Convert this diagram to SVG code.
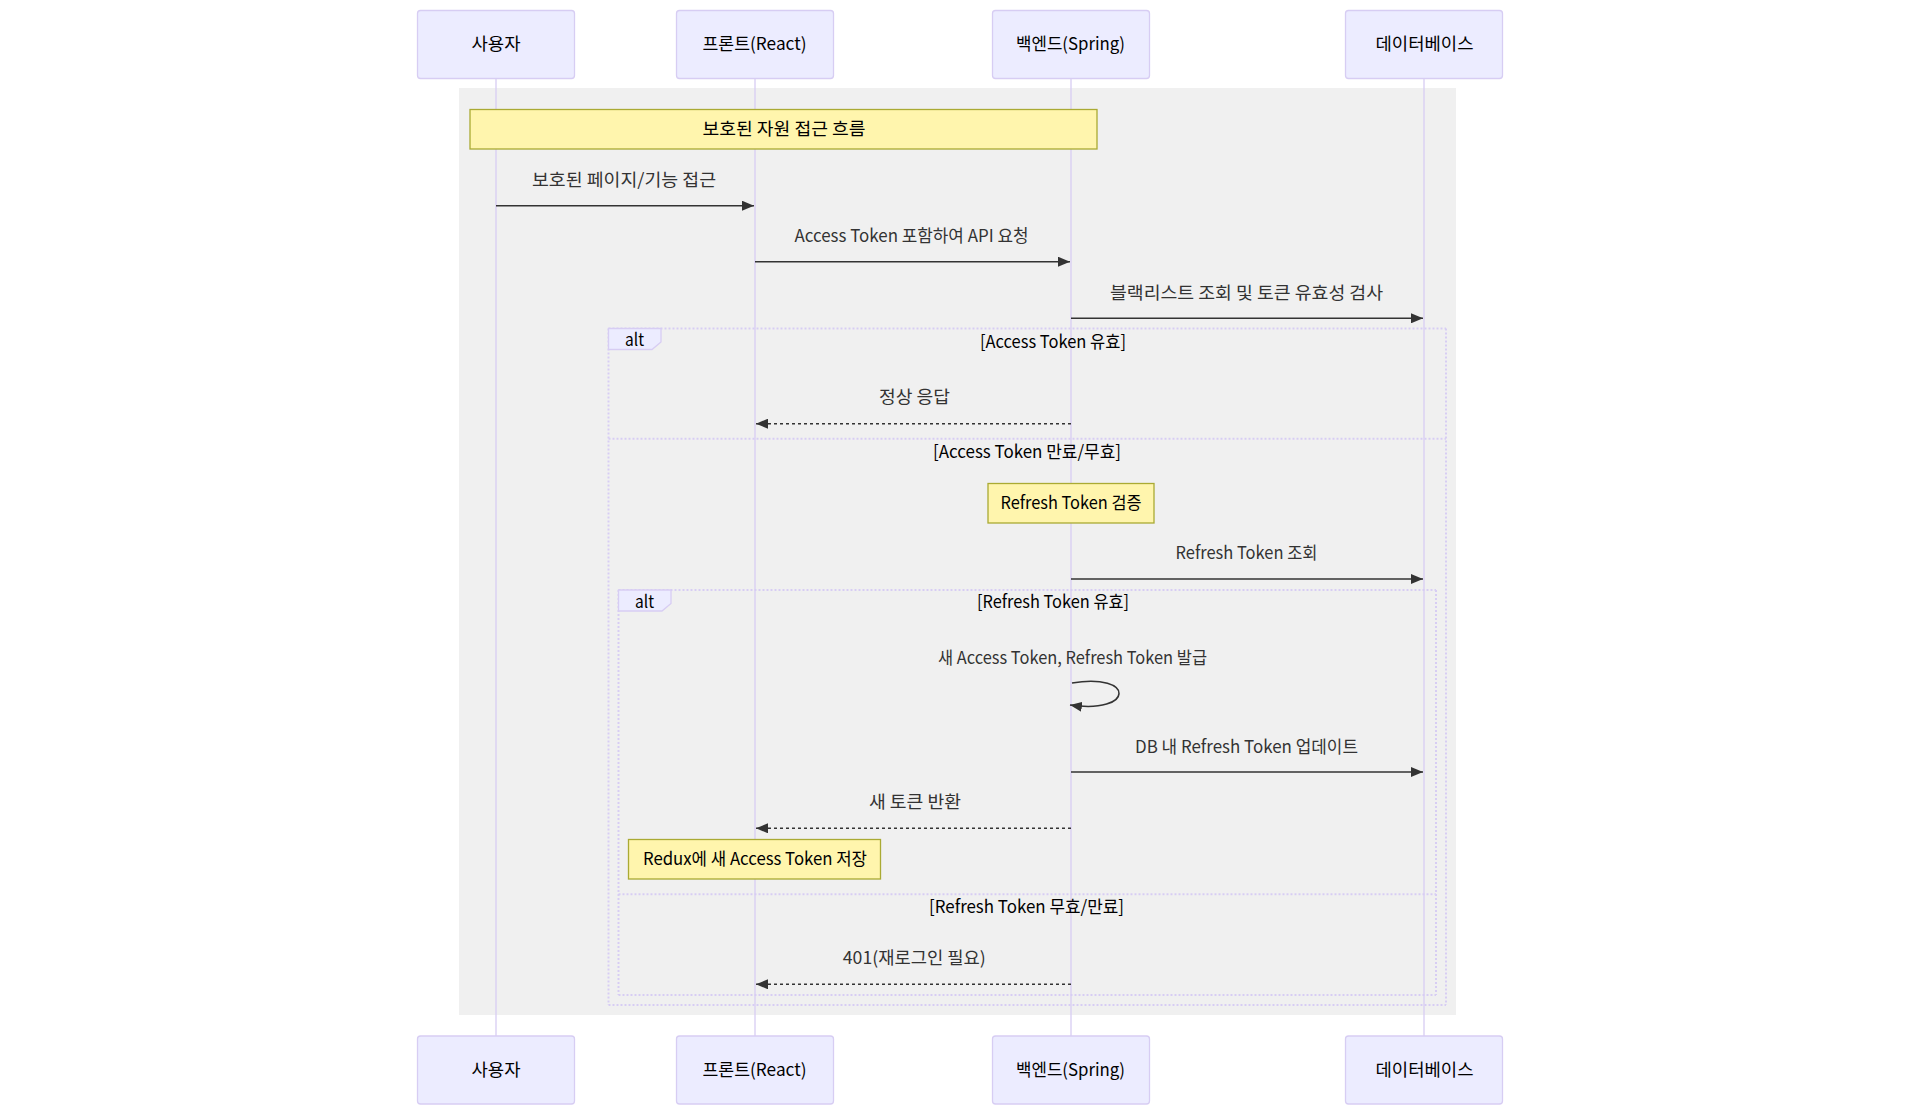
<svg xmlns="http://www.w3.org/2000/svg" width="1920" height="1116" viewBox="0 0 1920 1116">
<style>
text{font-family:"Noto Sans CJK KR","Noto Sans",sans-serif;font-size:17.5px;text-anchor:middle;dominant-baseline:central}
.actor{fill:#ececff;stroke:#d7cdf3;stroke-width:1.3}
.actxt{fill:#000}
.life{stroke:#d7cdf3;stroke-width:1.3}
.note{fill:#fff5ad;stroke:#aaaa33;stroke-width:1.3}
.ntxt{fill:#000}
.msg{stroke:#333;stroke-width:1.6;fill:none}
.dash{stroke-dasharray:3,3}
.mtxt{fill:#333}
.loop{stroke:#d7cdf3;stroke-width:2;stroke-dasharray:2,2;fill:none}
.lbox{fill:#ececff;stroke:#d7cdf3;stroke-width:1.3}
.ltxt{fill:#000}
</style>
<defs>
<marker id="arrow" markerUnits="userSpaceOnUse" markerWidth="12" markerHeight="10" viewBox="0 0 12 10" refX="12" refY="5" orient="auto">
<path d="M0,0 L12,5 L0,10 z" fill="#333"/>
</marker>
</defs>
<rect width="1920" height="1116" fill="#fff"/>
<rect id="rect-bg" x="459" y="88" width="997" height="927" fill="#f0f0f0"/>
<g id="lifelines">
<line class="life" x1="496" y1="78" x2="496" y2="1036"/>
<line class="life" x1="755" y1="78" x2="755" y2="1036"/>
<line class="life" x1="1071" y1="78" x2="1071" y2="1036"/>
<line class="life" x1="1424" y1="78" x2="1424" y2="1036"/>
</g>
<g id="actor-user-top"><rect class="actor" x="417.5" y="10.5" width="157" height="68" rx="3"/><text class="actxt" x="496" y="42" textLength="49" lengthAdjust="spacingAndGlyphs">사용자</text></g>
<g id="actor-front-top"><rect class="actor" x="676.5" y="10.5" width="157" height="68" rx="3"/><text class="actxt" x="754.5" y="42" textLength="104" lengthAdjust="spacingAndGlyphs">프론트(React)</text></g>
<g id="actor-back-top"><rect class="actor" x="992.5" y="10.5" width="157" height="68" rx="3"/><text class="actxt" x="1070.5" y="42" textLength="109" lengthAdjust="spacingAndGlyphs">백엔드(Spring)</text></g>
<g id="actor-db-top"><rect class="actor" x="1345.5" y="10.5" width="157" height="68" rx="3"/><text class="actxt" x="1424.5" y="42" textLength="98" lengthAdjust="spacingAndGlyphs">데이터베이스</text></g>
<g id="actor-user-bottom"><rect class="actor" x="417.5" y="1036" width="157" height="68" rx="3"/><text class="actxt" x="496" y="1068" textLength="49" lengthAdjust="spacingAndGlyphs">사용자</text></g>
<g id="actor-front-bottom"><rect class="actor" x="676.5" y="1036" width="157" height="68" rx="3"/><text class="actxt" x="754.5" y="1068" textLength="104" lengthAdjust="spacingAndGlyphs">프론트(React)</text></g>
<g id="actor-back-bottom"><rect class="actor" x="992.5" y="1036" width="157" height="68" rx="3"/><text class="actxt" x="1070.5" y="1068" textLength="109" lengthAdjust="spacingAndGlyphs">백엔드(Spring)</text></g>
<g id="actor-db-bottom"><rect class="actor" x="1345.5" y="1036" width="157" height="68" rx="3"/><text class="actxt" x="1424.5" y="1068" textLength="98" lengthAdjust="spacingAndGlyphs">데이터베이스</text></g>
<g id="note-flow"><rect class="note" x="470" y="109.5" width="627" height="39.5"/><text class="ntxt" x="784" y="127.5" textLength="163" lengthAdjust="spacingAndGlyphs">보호된 자원 접근 흐름</text></g>
<g id="alt-outer">
<line class="loop" x1="608.5" y1="328.5" x2="1446" y2="328.5"/>
<line class="loop" x1="1446" y1="328.5" x2="1446" y2="1005"/>
<line class="loop" x1="608.5" y1="1005" x2="1446" y2="1005"/>
<line class="loop" x1="608.5" y1="328.5" x2="608.5" y2="1005"/>
<line class="loop" x1="608.5" y1="438.7" x2="1446" y2="438.7"/>
<polygon class="lbox" points="608.5,328.5 661,328.5 661,342 652,349.5 608.5,349.5"/>
<text class="ltxt" x="634.5" y="338.5" textLength="19" lengthAdjust="spacingAndGlyphs">alt</text>
<text class="ltxt" x="1053" y="340.5" textLength="146" lengthAdjust="spacingAndGlyphs">[Access Token 유효]</text>
<text class="ltxt" x="1027" y="450.5" textLength="188" lengthAdjust="spacingAndGlyphs">[Access Token 만료/무효]</text>
</g>
<g id="note-verify"><rect class="note" x="988" y="483.5" width="166" height="39.5"/><text class="ntxt" x="1071" y="501" textLength="141" lengthAdjust="spacingAndGlyphs">Refresh Token 검증</text></g>
<g id="alt-inner">
<line class="loop" x1="618.5" y1="590" x2="1436" y2="590"/>
<line class="loop" x1="1436" y1="590" x2="1436" y2="995"/>
<line class="loop" x1="618.5" y1="995" x2="1436" y2="995"/>
<line class="loop" x1="618.5" y1="590" x2="618.5" y2="995"/>
<line class="loop" x1="618.5" y1="894.3" x2="1436" y2="894.3"/>
<polygon class="lbox" points="618.5,590 671,590 671,603.5 662,611 618.5,611"/>
<text class="ltxt" x="644.5" y="600" textLength="19" lengthAdjust="spacingAndGlyphs">alt</text>
<text class="ltxt" x="1053" y="600.5" textLength="152" lengthAdjust="spacingAndGlyphs">[Refresh Token 유효]</text>
<text class="ltxt" x="1026.5" y="905" textLength="195" lengthAdjust="spacingAndGlyphs">[Refresh Token 무효/만료]</text>
</g>
<g id="note-redux"><rect class="note" x="628.5" y="839.5" width="252" height="39.5"/><text class="ntxt" x="755" y="857" textLength="224" lengthAdjust="spacingAndGlyphs">Redux에 새 Access Token 저장</text></g>
<g id="connectors">
<line class="msg" x1="496" y1="205.7" x2="754" y2="205.7" marker-end="url(#arrow)"/>
<text class="mtxt" x="624" y="178.5" textLength="184" lengthAdjust="spacingAndGlyphs">보호된 페이지/기능 접근</text>
<line class="msg" x1="755" y1="261.7" x2="1070" y2="261.7" marker-end="url(#arrow)"/>
<text class="mtxt" x="911.5" y="234.5" textLength="234" lengthAdjust="spacingAndGlyphs">Access Token 포함하여 API 요청</text>
<line class="msg" x1="1071" y1="318.3" x2="1423" y2="318.3" marker-end="url(#arrow)"/>
<text class="mtxt" x="1246.5" y="291" textLength="273" lengthAdjust="spacingAndGlyphs">블랙리스트 조회 및 토큰 유효성 검사</text>
<line class="msg dash" x1="1071" y1="423.7" x2="756" y2="423.7" marker-end="url(#arrow)"/>
<text class="mtxt" x="914.5" y="395.5" textLength="71" lengthAdjust="spacingAndGlyphs">정상 응답</text>
<line class="msg" x1="1071" y1="579" x2="1423" y2="579" marker-end="url(#arrow)"/>
<text class="mtxt" x="1246.5" y="551.5" textLength="142" lengthAdjust="spacingAndGlyphs">Refresh Token 조회</text>
<path class="msg" d="M1072,683 C1135,672.5 1135,714.5 1070,705" marker-end="url(#arrow)"/>
<text class="mtxt" x="1072.5" y="656.5" textLength="269" lengthAdjust="spacingAndGlyphs">새 Access Token, Refresh Token 발급</text>
<line class="msg" x1="1071" y1="772" x2="1423" y2="772" marker-end="url(#arrow)"/>
<text class="mtxt" x="1246.5" y="745.5" textLength="223" lengthAdjust="spacingAndGlyphs">DB 내 Refresh Token 업데이트</text>
<line class="msg dash" x1="1071" y1="828.3" x2="756" y2="828.3" marker-end="url(#arrow)"/>
<text class="mtxt" x="915" y="800" textLength="92" lengthAdjust="spacingAndGlyphs">새 토큰 반환</text>
<line class="msg dash" x1="1071" y1="984.3" x2="756" y2="984.3" marker-end="url(#arrow)"/>
<text class="mtxt" x="914.3" y="956.5" textLength="143" lengthAdjust="spacingAndGlyphs">401(재로그인 필요)</text>
</g>
</svg>
